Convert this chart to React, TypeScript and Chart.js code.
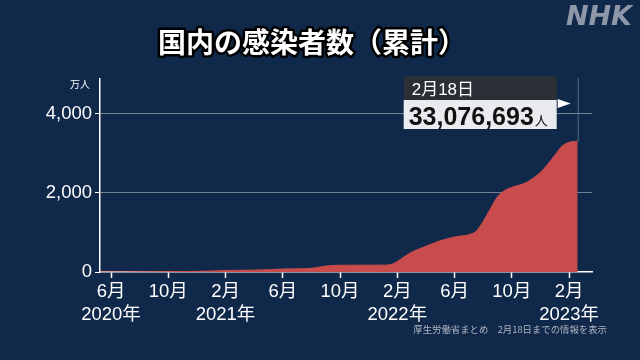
import React, { useEffect, useRef } from "react";
import { Chart, registerables } from "chart.js";

Chart.register(...registerables);

// months since 2020-01-01 (Jan 2020 = 0)
const months = [4.25, 5, 6, 7, 8, 9, 10, 11, 12, 13, 14, 15, 16, 17, 18, 19, 19.5, 20, 21, 22, 23, 24, 24.5, 25, 25.5, 26, 27, 28, 29, 30, 30.5, 31, 31.5, 32, 32.5, 33, 34, 35, 35.5, 36, 36.5, 37, 37.6];
// cumulative cases (万人)
const cases = [1.6, 1.7, 1.9, 3.6, 6.5, 8.3, 10.2, 15, 23.5, 39, 43, 47.5, 59, 74.5, 80, 94, 120, 150, 170, 172, 173, 173.5, 185, 265, 390, 500, 650, 790, 885, 945, 1030, 1280, 1600, 1900, 2060, 2140, 2260, 2520, 2720, 2950, 3180, 3280, 3308];

const xTickValues = [5, 9, 13, 17, 21, 25, 29, 33, 37];
const xTickMonths = ["6月", "10月", "2月", "6月", "10月", "2月", "6月", "10月", "2月"];
const xTickYears = ["2020年", "", "2021年", "", "", "2022年", "", "", "2023年"];
const yTickValues = [0, 2000, 4000];

const titleText = "国内の感染者数（累計）";
const calloutDate = "2月18日";
const calloutValue = "33,076,693";
const footerText = "厚生労働省まとめ　2月18日までの情報を表示";
const FONT = '"Noto Sans CJK JP", "Noto Sans", sans-serif';
const NUMFONT = '"Liberation Sans", "Noto Sans CJK JP", sans-serif';

export default function App() {
  const ref = useRef<HTMLCanvasElement | null>(null);

  useEffect(() => {
    if (!ref.current) return;
    const decor = {
      id: "decor",
      beforeDraw(chart: any) {
        const c = chart.ctx;
        c.save();
        c.fillStyle = "#10284a";
        c.fillRect(0, 0, chart.width, chart.height);
        c.restore();
      },
      afterDraw(chart: any) {
        const c = chart.ctx as CanvasRenderingContext2D;
        const xs = chart.scales.x;
        const ys = chart.scales.y;
        c.save();
        // title
        c.font = `bold 28px ${FONT}`;
        c.textAlign = "center";
        c.textBaseline = "middle";
        c.lineJoin = "round";
        c.lineWidth = 5;
        c.strokeStyle = "#000";
        c.strokeText(titleText, 312, 42);
        c.fillStyle = "#fff";
        c.fillText(titleText, 312, 42);
        // NHK logo
        c.font = 'oblique bold 27px "DejaVu Sans", sans-serif';
        c.textAlign = "right";
        c.textBaseline = "alphabetic";
        c.fillStyle = "#8d97a8";
        c.fillText("NHK", 632, 25);
        // unit
        c.font = `10px ${FONT}`;
        c.fillStyle = "#fff";
        c.textAlign = "right";
        c.textBaseline = "middle";
        c.fillText("万人", 90, 84);
        // footer
        c.font = `9.4px ${FONT}`;
        c.fillStyle = "#aeb4bf";
        c.textAlign = "right";
        c.fillText(footerText, 607, 329);
        // vertical marker line at last point
        const lastX = xs.getPixelForValue(months[months.length - 1]);
        const lastY = ys.getPixelForValue(cases[cases.length - 1]);
        c.strokeStyle = "rgba(120,135,160,0.7)";
        c.lineWidth = 1;
        c.beginPath();
        c.moveTo(lastX + 0.5, 78);
        c.lineTo(lastX + 0.5, lastY);
        c.stroke();
        // callout
        const right = lastX - 21;
        const left = right - 153;
        c.fillStyle = "#2b3037";
        c.fillRect(left, 76, right - left, 24);
        c.fillStyle = "#e9ebee";
        c.fillRect(left, 100, right - left, 29);
        c.fillStyle = "#fff";
        c.beginPath();
        c.moveTo(right + 1, 99);
        c.lineTo(right + 14, 103.5);
        c.lineTo(right + 1, 108);
        c.closePath();
        c.fill();
        c.textAlign = "left";
        c.textBaseline = "alphabetic";
        c.font = `17px ${NUMFONT}`;
        c.fillStyle = "#fff";
        c.fillText(calloutDate, left + 8, 95);
        c.font = `bold 25px ${NUMFONT}`;
        c.fillStyle = "#111";
        c.fillText(calloutValue, left + 5, 125);
        const w = c.measureText(calloutValue).width;
        c.font = `13px ${FONT}`;
        c.fillText("人", left + 6 + w, 125);
        c.restore();
      },
    };

    const chart = new Chart(ref.current, {
      type: "line",
      data: {
        datasets: [
          {
            data: months.map((m, i) => ({ x: m, y: cases[i] })),
            fill: "origin",
            backgroundColor: "rgb(201,76,76)",
            borderColor: "rgb(201,76,76)",
            borderWidth: 1,
            pointRadius: 0,
            cubicInterpolationMode: "monotone",
          },
        ],
      },
      options: {
        responsive: false,
        animation: false,
        layout: { padding: { top: 79, right: 48, left: 0, bottom: 0 } },
        plugins: { legend: { display: false }, tooltip: { enabled: false } },
        scales: {
          x: {
            type: "linear",
            min: 4.23,
            max: 38.6,
            afterBuildTicks: (s: any) => {
              s.ticks = xTickValues.map((v) => ({ value: v }));
            },
            afterFit: (s: any) => {
              s.height = 88;
            },
            border: { color: "#fff", width: 1.5 },
            grid: { drawOnChartArea: false, tickColor: "#fff", tickLength: 6, tickWidth: 1.5 },
            ticks: {
              autoSkip: false,
              maxRotation: 0,
              color: "#fff",
              padding: 2,
              font: { family: NUMFONT, size: 18.5, lineHeight: 1.25 },
              callback: (v: any) => {
                const i = xTickValues.indexOf(Number(v));
                if (i < 0) return "";
                return xTickYears[i] ? [xTickMonths[i], xTickYears[i]] : xTickMonths[i];
              },
            },
          },
          y: {
            min: 0,
            max: 4880,
            afterBuildTicks: (s: any) => {
              s.ticks = yTickValues.map((v) => ({ value: v }));
            },
            afterFit: (s: any) => {
              s.width = 100;
            },
            border: { color: "#fff", width: 1.5 },
            grid: {
              color: (ctx: any) => (ctx.tick && ctx.tick.value === 0 ? "rgba(0,0,0,0)" : "rgba(150,160,175,0.75)"),
              tickColor: "#fff",
              tickLength: 5,
              lineWidth: 1,
            },
            ticks: {
              color: "#fff",
              padding: 3,
              font: { family: NUMFONT, size: 18.5 },
              callback: (v: any) => Number(v).toLocaleString("en-US"),
            },
          },
        },
      },
      plugins: [decor],
    } as any);
    return () => chart.destroy();
  }, []);

  return (
    <div style={{ position: "absolute", left: 0, top: 0, width: 640, height: 360 }}>
      <canvas ref={ref} width={640} height={360} style={{ display: "block" }} />
    </div>
  );
}
